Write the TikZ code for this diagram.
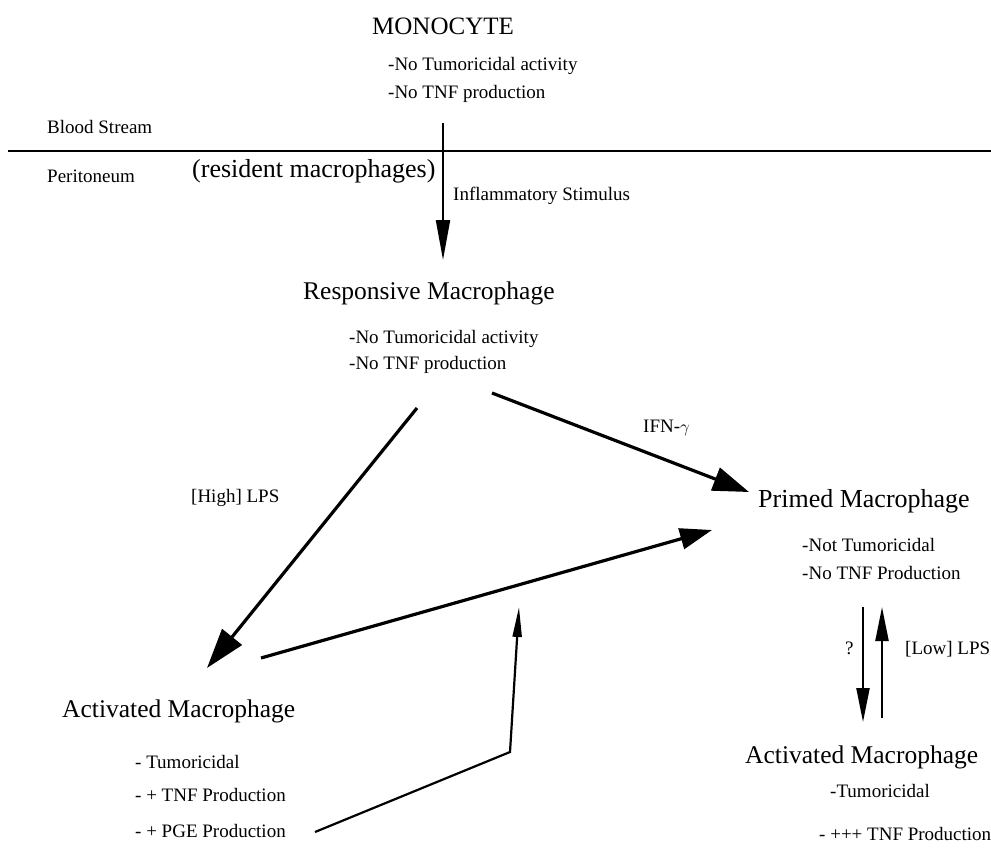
\documentclass[tikz,border=0pt]{standalone}
\usepackage{fontspec}
\setmainfont{Liberation Serif}
\usetikzlibrary{arrows.meta}
\tikzset{
  cell/.style={inner sep=0pt, anchor=base west, font=\fontsize{25.5}{28}\selectfont},
  note/.style={inner sep=0pt, anchor=base west, font=\fontsize{19}{21}\selectfont},
  fat/.style={line width=3.2pt, -{Triangle[length=36pt,width=24pt]}},
  slim/.style={line width=2.2pt, -{Triangle[length=34pt,width=13pt]}},
}
\begin{document}
\begin{tikzpicture}[x=1pt, y=-1pt]
\useasboundingbox (0,0) rectangle (991,849);
% texts
\node[cell, font=\fontsize{25}{28}\selectfont] (monocyte) at (372,34) {MONOCYTE};
\node[note] (mono1) at (388,70) {-No Tumoricidal activity};
\node[note] (mono2) at (388,98) {-No TNF production};
\node[note] (blood) at (47,133) {Blood Stream};
\node[note] (perit) at (47,182) {Peritoneum};
\node[cell, font=\fontsize{26}{28}\selectfont] (resident) at (192,177) {(resident macrophages)};
\node[note] (stim) at (453,200) {Inflammatory Stimulus};
\node[cell] (respmac) at (303,299) {Responsive Macrophage};
\node[note] (resp1) at (349,343) {-No Tumoricidal activity};
\node[note] (resp2) at (349,369) {-No TNF production};
\node[note] (ifn) at (643,432) {IFN-$\gamma$};
\node[note] (highlps) at (191,502) {[High] LPS};
\node[cell, font=\fontsize{26}{28}\selectfont] (primedmac) at (758,507) {Primed Macrophage};
\node[note] (prim1) at (802,551) {-Not Tumoricidal};
\node[note] (prim2) at (802,579) {-No TNF Production};
\node[note] (qmark) at (845,654) {?};
\node[note] (lowlps) at (905,654) {[Low] LPS};
\node[cell] (actmacL) at (62,717) {Activated Macrophage};
\node[note] (actL1) at (135,768) {- Tumoricidal};
\node[note] (actL2) at (135,801) {- + TNF Production};
\node[note] (actL3) at (135,837) {- + PGE Production};
\node[cell] (actmacR) at (745,763) {Activated Macrophage};
\node[note] (actR1) at (830,797) {-Tumoricidal};
\node[note] (actR2) at (819,840) {- +++ TNF Production};
% arrow ends
\coordinate (monoout) at (443,123);
\coordinate (respin) at (443,260);
\coordinate (respR) at (492,393);
\coordinate (primin) at (749,492);
\coordinate (respL) at (417,408);
\coordinate (actin) at (207,668);
\coordinate (actout) at (261,658);
\coordinate (primin2) at (712,530);
\coordinate (pgeout) at (315,832);
\coordinate (pgebend) at (510,752);
\coordinate (pgetip) at (519,607);
\coordinate (primdown) at (863,607);
\coordinate (actRin) at (863,722);
\coordinate (actRout) at (882,718);
\coordinate (primup) at (882,607);
% membrane
\draw[line width=2.5pt] (8,151) -- (991,151);
% connectors
\draw[slim, line width=2pt, -{Triangle[length=40pt,width=14pt]}] (monoout) -- (respin);
\draw[fat] (respR) -- (primin);
\draw[fat, -{Triangle[length=40pt,width=25pt]}] (respL) -- (actin);
\draw[fat, -{Triangle[length=32pt,width=21pt]}] (actout) -- (primin2);
\draw[line width=2.2pt, -{Triangle[length=30pt,width=9pt]}] (pgeout) -- (pgebend) -- (pgetip);
\draw[slim] (primdown) -- (actRin);
\draw[slim] (actRout) -- (primup);
\end{tikzpicture}
\end{document}
